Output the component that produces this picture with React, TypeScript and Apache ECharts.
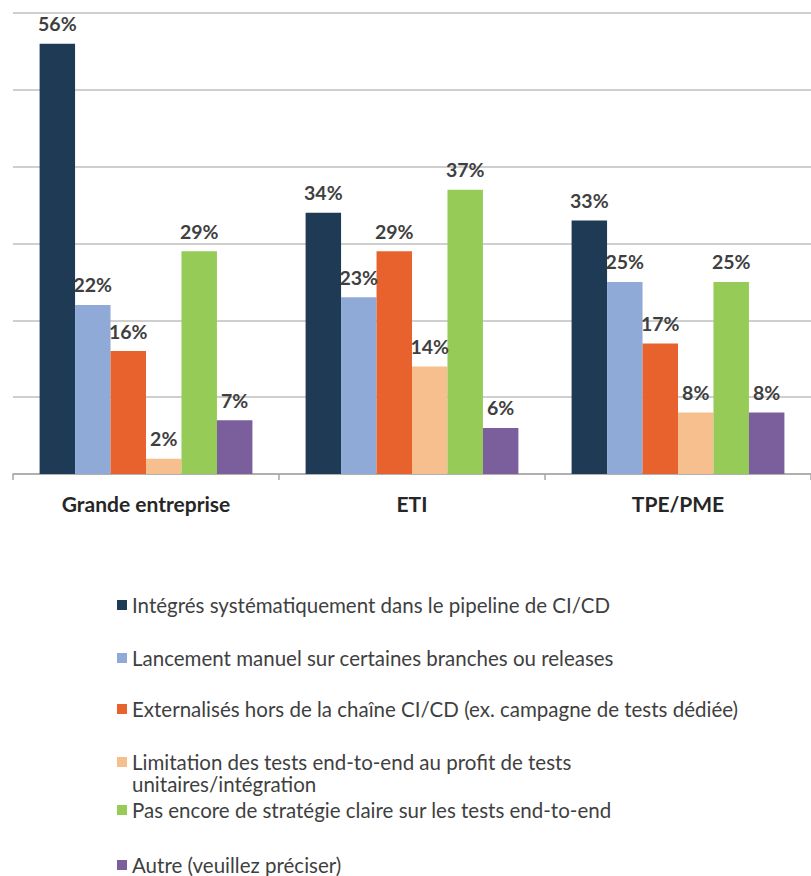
import React, { useEffect, useRef } from "react";
import * as echarts from "echarts";

const categories = ["Grande entreprise", "ETI", "TPE/PME"];

const seriesNames = [
  "Intégrés systématiquement dans le pipeline de CI/CD",
  "Lancement manuel sur certaines branches ou releases",
  "Externalisés hors de la chaîne CI/CD (ex. campagne de tests dédiée)",
  "Limitation des tests end-to-end au profit de tests\nunitaires/intégration",
  "Pas encore de stratégie claire sur les tests end-to-end",
  "Autre (veuillez préciser)",
];

const integres = [56, 34, 33];
const manuel = [22, 23, 25];
const externalises = [16, 29, 17];
const limitation = [2, 14, 8];
const pasStrategie = [29, 37, 25];
const autre = [7, 6, 8];

const seriesValues = [integres, manuel, externalises, limitation, pasStrategie, autre];

const colors = ["#1F3A54", "#8FAAD6", "#E8622D", "#F7BE8E", "#96CB58", "#7B5E9C"];

const legendCenters = [605, 658, 709, 762, 810, 865];

const yTicks = { min: 0, max: 60, interval: 10 };

const FONT = "Lato, 'Open Sans', sans-serif";

export default function App() {
  const ref = useRef<HTMLDivElement>(null);

  useEffect(() => {
    if (!ref.current) return;
    const chart = echarts.init(ref.current, undefined, { renderer: "svg" });
    const LH = 22;
    const legends = seriesNames.map((name, i) => {
      const multi = name.includes("\n");
      return {
        data: [name],
        orient: "vertical",
        left: 117,
        top: multi ? legendCenters[i] - LH * 1.5 : legendCenters[i] - LH / 2,
        padding: 0,
        icon: "rect",
        itemWidth: 10,
        itemHeight: 10,
        itemGap: 0,
        selectedMode: false,
        formatter: multi ? (n: string) => "\u00a0\n" + n : "{name}",
        textStyle: {
          color: "#3F3F3F",
          fontSize: 20.5,
          fontFamily: FONT,
          lineHeight: LH,
        },
      };
    });
    chart.setOption({
      animation: false,
      backgroundColor: "#ffffff",
      grid: { left: 13, top: 13, width: 810, height: 461, containLabel: false },
      legend: legends,
      xAxis: {
        type: "category",
        data: categories,
        axisLine: { lineStyle: { color: "#A6A6A6", width: 1.5 } },
        axisTick: { show: true, length: 6, lineStyle: { color: "#A6A6A6", width: 1.5 } },
        axisLabel: {
          color: "#262626",
          fontSize: 21,
          fontWeight: "bold",
          fontFamily: FONT,
          margin: 19,
        },
      },
      yAxis: {
        type: "value",
        min: yTicks.min,
        max: yTicks.max,
        interval: yTicks.interval,
        axisLabel: { show: false },
        axisLine: { show: false },
        axisTick: { show: false },
        splitLine: { lineStyle: { color: "#BFBFBF", width: 1.5 } },
      },
      series: seriesNames.map((name, i) => ({
        type: "bar",
        name,
        data: seriesValues[i],
        barGap: "0%",
        barCategoryGap: "20%",
        itemStyle: { color: colors[i] },
        label: {
          show: true,
          position: "top",
          distance: 10,
          formatter: "{c}%",
          color: "#3F3F3F",
          fontSize: 19.5,
          fontWeight: "bold",
          fontFamily: FONT,
        },
      })),
    });
    return () => chart.dispose();
  }, []);

  return <div ref={ref} style={{ width: 811, height: 876, position: "absolute", left: 0, top: 0 }} />;
}
